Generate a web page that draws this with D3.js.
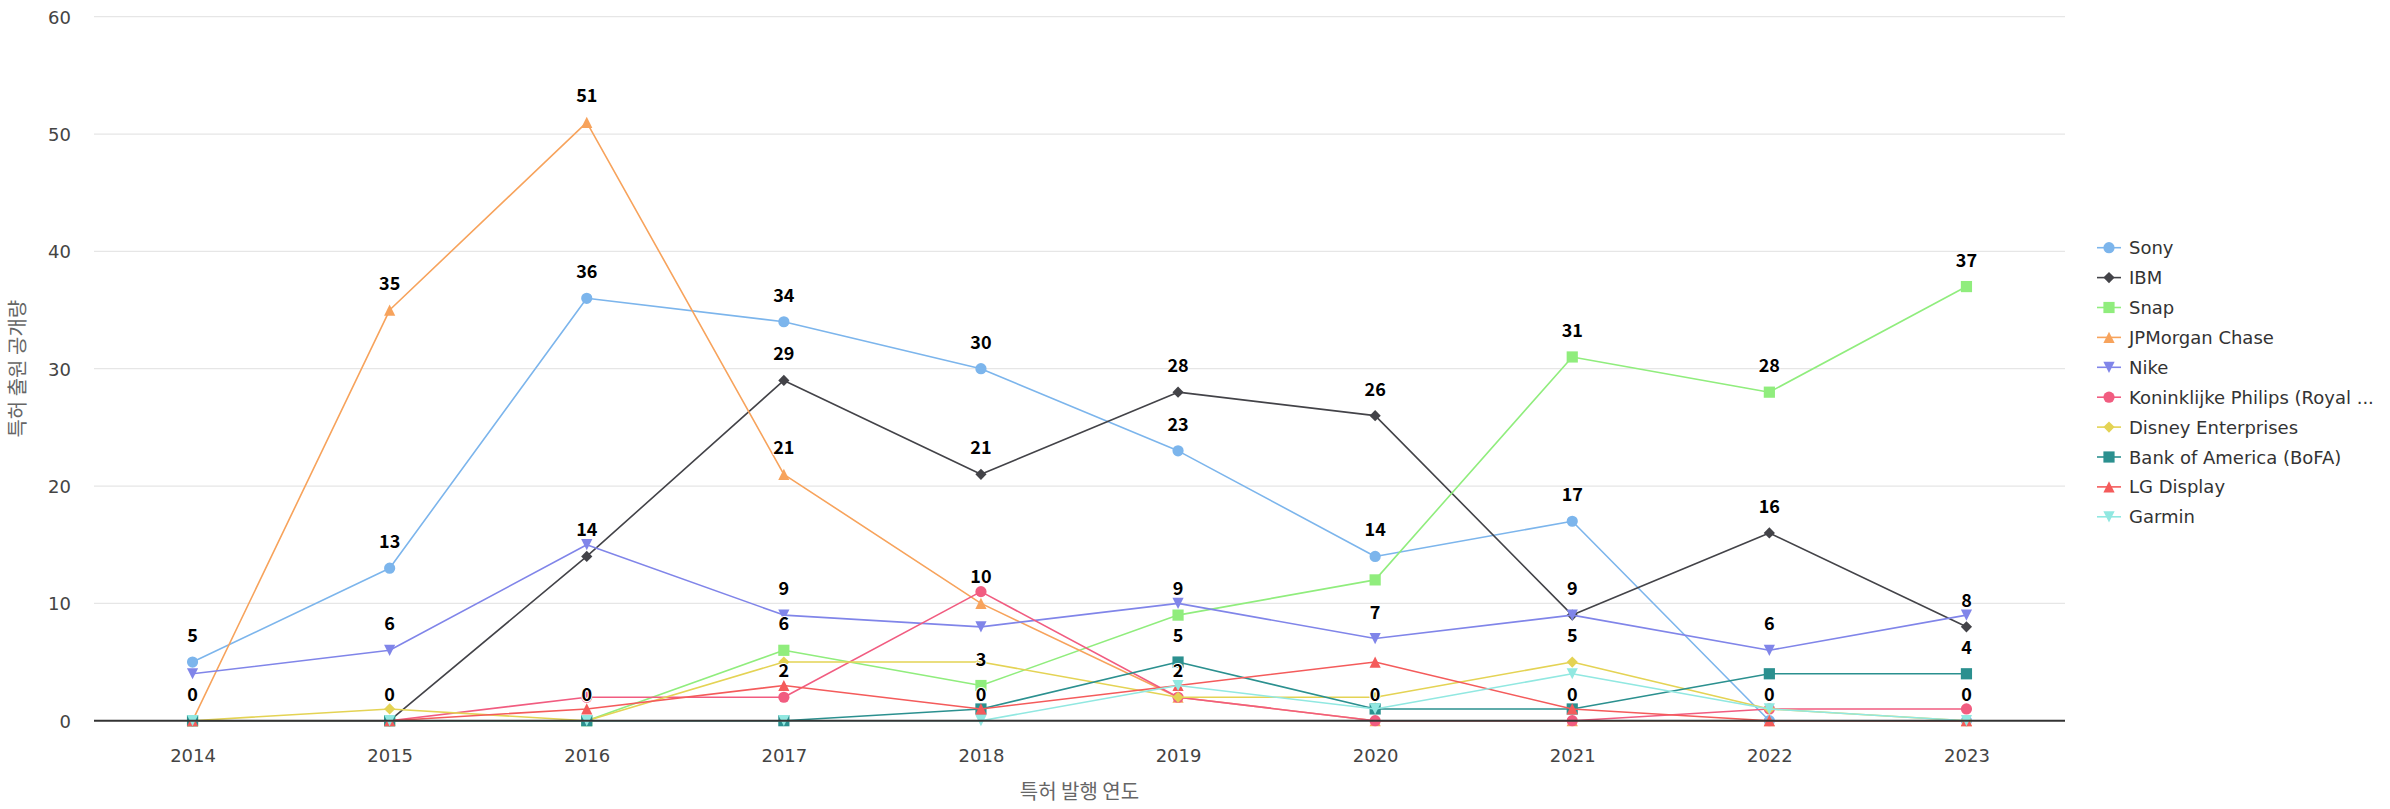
<!DOCTYPE html>
<html>
<head>
<meta charset="utf-8">
<script src="https://cdn.jsdelivr.net/npm/d3@7"></script>
<style>
  html, body { margin: 0; padding: 0; background: #ffffff; }
  svg { display: block; }
</style>
</head>
<body>
<svg id="chart" width="2390" height="809"></svg>
<script>
// ---------------- data ----------------
const categories = ["2014", "2015", "2016", "2017", "2018", "2019", "2020", "2021", "2022", "2023"];
const seriesNames = ["Sony", "IBM", "Snap", "JPMorgan Chase", "Nike",
  "Koninklijke Philips (Royal ...", "Disney Enterprises", "Bank of America (BoFA)", "LG Display", "Garmin"];
const sony    = [5, 13, 36, 34, 30, 23, 14, 17, 0, 0];
const ibm     = [0, 0, 14, 29, 21, 28, 26, 9, 16, 8];
const snap    = [0, 0, 0, 6, 3, 9, 12, 31, 28, 37];
const jpm     = [0, 35, 51, 21, 10, 2, 0, 0, 0, 0];
const nike    = [4, 6, 15, 9, 8, 10, 7, 9, 6, 9];
const philips = [0, 0, 2, 2, 11, 2, 0, 0, 1, 1];
const disney  = [0, 1, 0, 5, 5, 2, 2, 5, 1, 0];
const bofa    = [0, 0, 0, 0, 1, 5, 1, 1, 4, 4];
const lgd     = [0, 0, 1, 3, 1, 3, 5, 1, 0, 0];
const garmin  = [0, 0, 0, 0, 0, 3, 1, 4, 1, 0];
const seriesValues = [sony, ibm, snap, jpm, nike, philips, disney, bofa, lgd, garmin];
const yTicks = [0, 10, 20, 30, 40, 50, 60];
const xTitle = "특허 발행 연도";
const yTitle = "특허 출원 공개량";

const colors = ["#7cb5ec", "#434348", "#90ed7d", "#f7a35c", "#8085e9",
  "#f15c80", "#e4d354", "#2b908f", "#f45b5b", "#91e8e1"];
const symbols = ["circle", "diamond", "square", "triangle", "triangle-down"];

// ---------------- layout ----------------
const plot = { left: 94, right: 2065, top: 16.7, bottom: 720.7 };
const svg = d3.select("#chart");

const x = d3.scalePoint().domain(categories).range([plot.left, plot.right]).padding(0.5);
const y = d3.scaleLinear().domain([0, 60]).range([plot.bottom, plot.top]);

function markerPath(sym, cx, cy, r) {
  const p = d3.path();
  if (sym === "circle") {
    p.moveTo(cx + r, cy); p.arc(cx, cy, r, 0, 2 * Math.PI); p.closePath();
  } else if (sym === "diamond") {
    p.moveTo(cx, cy - r); p.lineTo(cx + r, cy); p.lineTo(cx, cy + r); p.lineTo(cx - r, cy); p.closePath();
  } else if (sym === "square") {
    p.rect(cx - r, cy - r, 2 * r, 2 * r);
  } else if (sym === "triangle") {
    p.moveTo(cx, cy - r); p.lineTo(cx + r, cy + r); p.lineTo(cx - r, cy + r); p.closePath();
  } else {
    p.moveTo(cx - r, cy - r); p.lineTo(cx + r, cy - r); p.lineTo(cx, cy + r); p.closePath();
  }
  return p.toString();
}

// grid lines
svg.append("g").selectAll("line").data(yTicks.filter(d => d !== 0)).join("line")
  .attr("x1", plot.left).attr("x2", plot.right)
  .attr("y1", d => y(d)).attr("y2", d => y(d))
  .attr("stroke", "#e6e6e6").attr("stroke-width", 1.2);

// y axis labels
const yAxis = d3.axisLeft(y).tickValues(yTicks).tickSize(0).tickPadding(0);
const gy = svg.append("g").attr("transform", `translate(71,0)`).call(yAxis);
gy.select(".domain").remove();
gy.selectAll("text").attr("font-family", "DejaVu Sans").attr("font-size", 18)
  .attr("fill", "#444").attr("dy", "0.36em");

// x axis
const xAxis = d3.axisBottom(x).tickSize(0).tickPadding(0);
const gx = svg.append("g").attr("transform", `translate(0,${plot.bottom})`).call(xAxis);
gx.select(".domain").remove();
gx.selectAll("text").attr("font-family", "DejaVu Sans").attr("font-size", 18)
  .attr("fill", "#444").attr("y", 41).attr("dy", 0);

// axis titles
svg.append("text").attr("x", (plot.left + plot.right) / 2).attr("y", 799)
  .attr("text-anchor", "middle").attr("font-family", "Noto Sans CJK KR").attr("font-size", 20)
  .attr("fill", "#666").text(xTitle);
svg.append("text").attr("transform", `translate(25,${(plot.top + plot.bottom) / 2}) rotate(-90)`)
  .attr("text-anchor", "middle").attr("font-family", "Noto Sans CJK KR").attr("font-size", 20)
  .attr("fill", "#666").text(yTitle);

// series
const line = d3.line().x(d => x(d.cat)).y(d => y(d.v));
const seriesG = svg.append("g");
const R = 5.6;
seriesValues.forEach((vals, si) => {
  const pts = vals.map((v, i) => ({ cat: categories[i], v }));
  const g = seriesG.append("g");
  g.append("path").attr("d", line(pts)).attr("fill", "none")
    .attr("stroke", colors[si]).attr("stroke-width", 1.6).attr("stroke-linejoin", "round");
  g.selectAll("path.m").data(pts).join("path").attr("class", "m")
    .attr("d", d => markerPath(symbols[si % 5], x(d.cat), y(d.v), R))
    .attr("fill", colors[si]);
});

// x axis line (drawn over the zero values)
svg.append("line").attr("x1", plot.left).attr("x2", plot.right)
  .attr("y1", plot.bottom).attr("y2", plot.bottom)
  .attr("stroke", "#333").attr("stroke-width", 2);

// data labels with overlap hiding (series order priority)
const labelG = svg.append("g");
const labels = [];
seriesValues.forEach((vals, si) => {
  vals.forEach((v, i) => {
    const cx = x(categories[i]), cy = y(v) - 20;
    const t = labelG.append("text").attr("x", cx).attr("y", cy)
      .attr("text-anchor", "middle").attr("font-family", "Noto Sans CJK KR")
      .attr("font-weight", "bold").attr("font-size", 18).attr("fill", "#000")
      .attr("stroke", "#fff").attr("stroke-width", 2).attr("paint-order", "stroke")
      .attr("stroke-linejoin", "round").text(v);
    const w = t.node().getComputedTextLength() + 10;
    const h = 30;
    const midY = cy - 6.5;
    labels.push({ t, box: { x0: cx - w / 2, x1: cx + w / 2, y0: midY - h / 2, y1: midY + h / 2 }, hidden: false });
  });
});
for (let i = 0; i < labels.length; i++) {
  for (let j = i + 1; j < labels.length; j++) {
    const a = labels[i], b = labels[j];
    if (a.hidden || b.hidden) continue;
    if (a.box.x0 < b.box.x1 && b.box.x0 < a.box.x1 && a.box.y0 < b.box.y1 && b.box.y0 < a.box.y1) {
      b.hidden = true;
    }
  }
}
labels.forEach(l => { if (l.hidden) l.t.remove(); });

// legend
const legend = svg.append("g");
seriesNames.forEach((name, si) => {
  const cy = 247.7 + si * 29.9;
  const g = legend.append("g");
  g.append("line").attr("x1", 2097).attr("x2", 2121).attr("y1", cy).attr("y2", cy)
    .attr("stroke", colors[si]).attr("stroke-width", 1.6);
  g.append("path").attr("d", markerPath(symbols[si % 5], 2109, cy, R)).attr("fill", colors[si]);
  g.append("text").attr("x", 2129).attr("y", cy + 6.5)
    .attr("font-family", "DejaVu Sans").attr("font-size", 18).attr("fill", "#333").text(name);
});
</script>
</body>
</html>
